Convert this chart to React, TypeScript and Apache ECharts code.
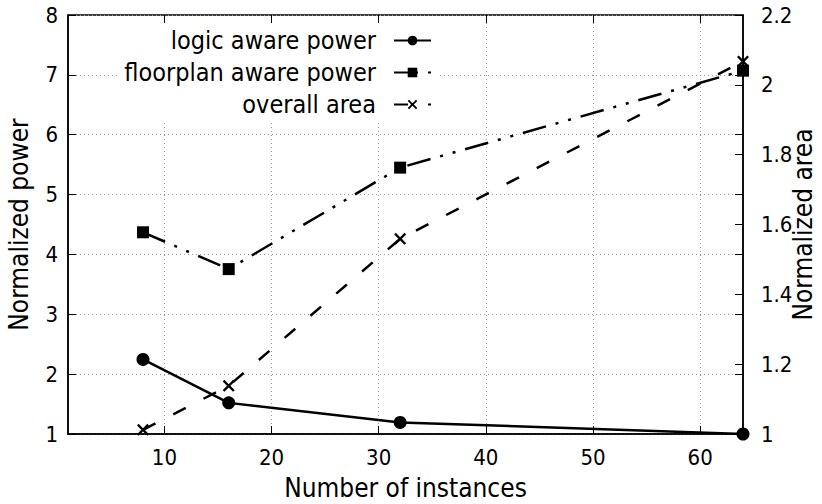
import React, { useEffect, useRef } from 'react';
import * as echarts from 'echarts';

const instances = [8, 16, 32, 64];
const logicPower = [2.245, 1.52, 1.194, 1.0];
const floorplanPower = [4.37, 3.755, 5.45, 7.07];
const overallArea = [1.012, 1.138, 1.559, 2.067];
const xTickValues = [10, 20, 30, 40, 50, 60];
const seriesNames = ['logic aware power', 'floorplan aware power', 'overall area'];
const axisTitles = { x: 'Number of instances', yLeft: 'Normalized power', yRight: 'Normalized area' };

const FONT = '"DejaVu Sans Condensed", "DejaVu Sans", sans-serif';
const CROSS = 'path://M0,1.4L1.4,0L5,3.6L8.6,0L10,1.4L6.4,5L10,8.6L8.6,10L5,6.4L1.4,10L0,8.6L3.6,5Z';

export default function App() {
  const ref = useRef<HTMLDivElement>(null);
  useEffect(() => {
    if (!ref.current) return;
    const chart = echarts.init(ref.current, undefined, { renderer: 'svg' });
    const pair = (ys: number[]) => instances.map((x, i) => [x, ys[i]]);
    const grid = { color: '#9a9a9a', width: 1, type: [1, 3] as number[] };
    chart.setOption({
      animation: false,
      backgroundColor: '#fff',
      textStyle: { fontFamily: FONT },
      grid: {
        left: 68, right: 79, top: 15, bottom: 70,
        outerBoundsMode: 'none', containLabel: false,
        show: true, borderColor: '#000', borderWidth: 1.5, backgroundColor: 'transparent',
      },
      legend: {
        orient: 'vertical',
        align: 'right',
        right: 384,
        top: 23,
        itemWidth: 37,
        itemHeight: 12,
        itemGap: 7,
        padding: [5, 6, 5, 6],
        backgroundColor: '#fff',
        data: seriesNames,
        textStyle: { fontSize: 25, lineHeight: 25, fontFamily: FONT, color: '#000', padding: [0, 13, 0, 0] },
      },
      xAxis: [
        {
          type: 'value', min: 1, max: 64, position: 'bottom',
          name: axisTitles.x, nameLocation: 'middle', nameGap: 41,
          nameTextStyle: { fontSize: 26, fontFamily: FONT, color: '#000' },
          axisLine: { show: true, lineStyle: { color: '#000', width: 1.5 } },
          axisTick: { show: true, inside: true, length: 8, customValues: xTickValues, lineStyle: { color: '#000', width: 1 } },
          axisLabel: { customValues: xTickValues, fontSize: 22, fontFamily: FONT, color: '#000', margin: 12 },
          splitLine: { show: true, lineStyle: grid },
        },
        {
          type: 'value', min: 1, max: 64, position: 'top',
          axisLine: { show: false },
          axisTick: { show: true, inside: true, length: 8, customValues: xTickValues, lineStyle: { color: '#000', width: 1 } },
          axisLabel: { show: false },
          splitLine: { show: false },
        },
      ],
      yAxis: [
        {
          type: 'value', min: 1, max: 8, interval: 1, position: 'left',
          name: axisTitles.yLeft, nameLocation: 'middle', nameGap: 36,
          nameTextStyle: { fontSize: 26, fontFamily: FONT, color: '#000' },
          axisLine: { show: true, lineStyle: { color: '#000', width: 1.5 } },
          axisTick: { show: true, inside: true, length: 8, lineStyle: { color: '#000', width: 1 } },
          axisLabel: { fontSize: 22, fontFamily: FONT, color: '#000', margin: 10 },
          splitLine: { show: true, lineStyle: grid },
        },
        {
          type: 'value', min: 1, max: 2.2, interval: 0.2, position: 'right',
          name: axisTitles.yRight, nameLocation: 'middle', nameGap: 47, nameMoveOverlap: false,
          nameTextStyle: { fontSize: 26, fontFamily: FONT, color: '#000' },
          axisLine: { show: true, lineStyle: { color: '#000', width: 1.5 } },
          axisTick: { show: true, inside: true, length: 8, lineStyle: { color: '#000', width: 1 } },
          axisLabel: { fontSize: 22, fontFamily: FONT, color: '#000', margin: 18, formatter: (v: number) => String(Math.round(v * 10) / 10) },
          splitLine: { show: false },
        },
        {
          type: 'value', min: 1, max: 8, interval: 1, position: 'right',
          axisLine: { show: false },
          axisTick: { show: true, inside: true, length: 8, lineStyle: { color: '#000', width: 1 } },
          axisLabel: { show: false },
          splitLine: { show: false },
        },
      ],
      series: [
        {
          name: seriesNames[0], type: 'line', xAxisIndex: 0, yAxisIndex: 0,
          data: pair(logicPower),
          symbol: 'circle', symbolSize: 13,
          itemStyle: { color: '#000' },
          lineStyle: { color: '#000', width: 2.5, type: 'solid' },
        },
        {
          name: seriesNames[1], type: 'line', xAxisIndex: 0, yAxisIndex: 0,
          data: pair(floorplanPower),
          symbol: 'rect', symbolSize: 12,
          itemStyle: { color: '#000' },
          lineStyle: { color: '#000', width: 2.5, type: [24, 10, 3, 10, 3, 10] },
        },
        {
          name: seriesNames[2], type: 'line', xAxisIndex: 0, yAxisIndex: 1,
          data: pair(overallArea),
          symbol: CROSS, symbolSize: 12,
          itemStyle: { color: '#000' },
          lineStyle: { color: '#000', width: 2.5, type: [14, 20] },
        },
      ],
    });
    return () => chart.dispose();
  }, []);
  return <div ref={ref} style={{ position: 'fixed', left: 0, top: 0, width: 822, height: 504 }} />;
}
